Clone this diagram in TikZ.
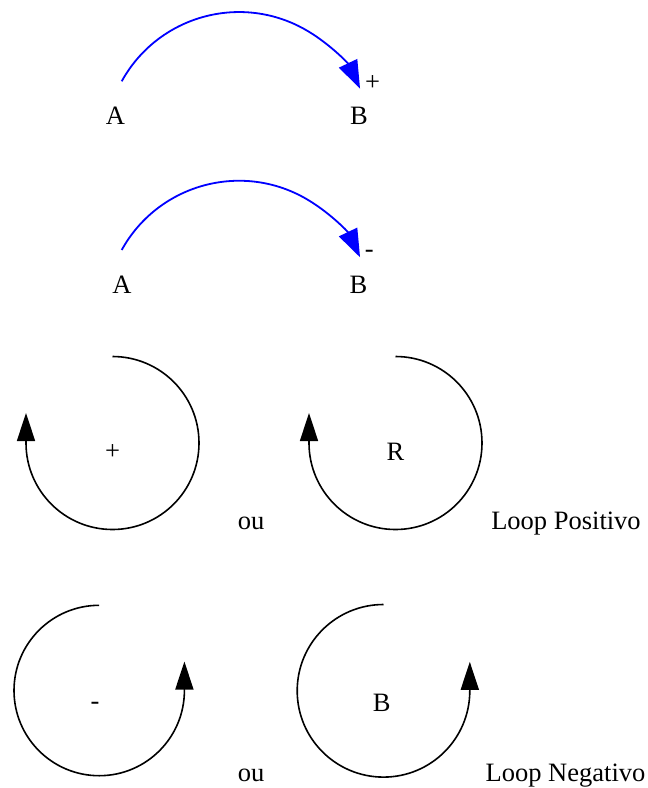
\documentclass[tikz,border=0pt]{standalone}
\usepackage{fontspec}
\setmainfont{Liberation Serif}
\usetikzlibrary{arrows.meta}
\tikzset{
  lbl/.style={anchor=base, inner sep=0pt, font=\fontsize{26.5}{31}\selectfont},
  linkarc/.style={draw=blue, line width=1.8pt, -{Triangle[length=28pt,width=20pt]}},
  looparc/.style={draw=black, line width=1.6pt, -{Triangle[length=28pt,width=18pt]}}
}
\begin{document}
\begin{tikzpicture}[x=1pt,y=1pt]
\useasboundingbox (0,0) rectangle (648,-788);
% row 1
\node[lbl] (A1) at (115.5,-124.5) {A};
\node[lbl] (B1) at (359,-124.5) {B};
\node[lbl] (p1) at (372.5,-90.3) {+};
\coordinate (s1) at (121.7,-81.3);
\draw[linkarc] (s1) arc[start angle=151.1, end angle=25.4, radius=134];
% row 2
\node[lbl] (A2) at (122,-293.5) {A};
\node[lbl] (B2) at (358.5,-293.5) {B};
\node[lbl] (m2) at (369.3,-257.6) {-};
\coordinate (s2) at (121.7,-250);
\draw[linkarc] (s2) arc[start angle=151.1, end angle=25.4, radius=134];
% row 3
\coordinate (s3) at (112.5,-356.5);
\draw[looparc] (s3) arc[start angle=90, end angle=-180, radius=86.5] -- ++(0,30);
\node[lbl] (p3) at (112.5,-459.3) {+};
\node[lbl] (ou3) at (251,-529) {ou};
\coordinate (s4) at (395.5,-356.5);
\draw[looparc] (s4) arc[start angle=90, end angle=-180, radius=86.5] -- ++(0,30);
\node[lbl] (R) at (395.5,-460) {R};
\node[lbl] (lp) at (566,-529) {Loop Positivo};
% row 4
\coordinate (s5) at (99.2,-605.3);
\draw[looparc] (s5) arc[start angle=90, end angle=360, radius=85.2] -- ++(0,29);
\node[lbl] (m5) at (95,-709.6) {-};
\node[lbl] (ou5) at (251,-781) {ou};
\coordinate (s6) at (383.5,-604.5);
\draw[looparc] (s6) arc[start angle=90, end angle=360, radius=86.3] -- ++(0,29);
\node[lbl] (Bl) at (381.7,-711) {B};
\node[lbl] (ln) at (565.5,-781) {Loop Negativo};
\end{tikzpicture}
\end{document}
